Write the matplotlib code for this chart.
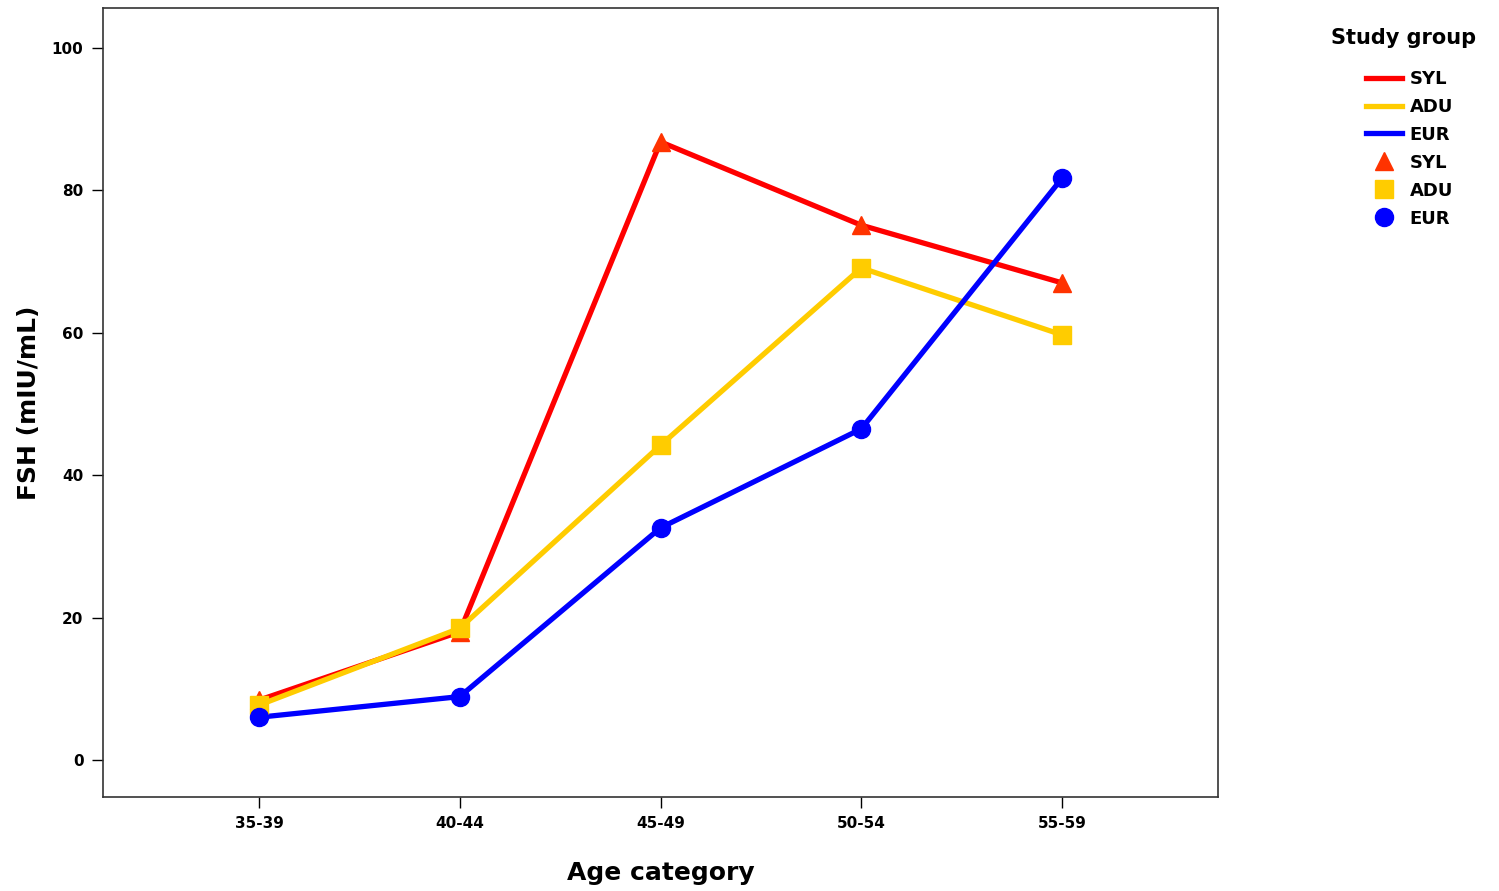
import numpy as np
import matplotlib
matplotlib.use('Agg')
import matplotlib.pyplot as plt
from matplotlib.lines import Line2D

# Data
age_groups = ['35-39', '40-44', '45-49', '50-54', '55-59']
fsh_syl = [8.4, 18.0, 86.8, 75.1, 67.0]
fsh_adu = [7.7, 18.5, 44.2, 69.1, 59.7]
fsh_eur = [6.0, 8.9, 32.6, 46.5, 81.7]

groups = ['SYL', 'ADU', 'EUR']
line_colors = ['#ff0000', '#ffcc00', '#0000ff']
marker_colors = ['#ff3300', '#ffcc00', '#0000ff']
markers = ['^', 's', 'o']

fig = plt.figure(figsize=(14.99, 8.91), dpi=100)
ax = fig.add_axes([0.0687, 0.1055, 0.7439, 0.8855])

x = np.arange(len(age_groups))
for vals, lc, mc, mk in zip([fsh_syl, fsh_adu, fsh_eur], line_colors, marker_colors, markers):
    ax.plot(x, vals, color=lc, linewidth=3.8, zorder=2)
    ax.plot(x, vals, linestyle='none', marker=mk, markersize=13,
            markerfacecolor=mc, markeredgecolor=mc, zorder=3)

ax.set_xlim(-0.777, 4.777)
ax.set_ylim(-5.2, 105.6)
ax.set_xticks(x)
ax.set_xticklabels(age_groups, fontsize=11, fontweight='bold')
ax.set_yticks([0, 20, 40, 60, 80, 100])
ax.set_yticklabels(['0', '20', '40', '60', '80', '100'], fontsize=11, fontweight='bold')
ax.tick_params(direction='out', length=8, width=1, colors='black', pad=6)
for sp in ax.spines.values():
    sp.set_linewidth(1.2)
    sp.set_color('#333333')

ax.set_xlabel('Age category', fontsize=18, fontweight='bold', labelpad=21)
ax.set_ylabel('FSH (mIU/mL)', fontsize=18, fontweight='bold', labelpad=8)

handles = []
for g, lc in zip(groups, line_colors):
    handles.append(Line2D([], [], color=lc, linewidth=3.8, label=g))
for g, mc, mk in zip(groups, marker_colors, markers):
    handles.append(Line2D([], [], linestyle='none', marker=mk, markersize=13,
                          markerfacecolor=mc, markeredgecolor=mc, label=g))

fig.text(0.888, 0.957, 'Study group', fontsize=15, fontweight='bold',
         ha='left', va='center')
leg = fig.legend(handles=handles, loc='upper left', bbox_to_anchor=(0.911, 0.9215),
                 frameon=False, fontsize=13, handlelength=2.0, handletextpad=0.45,
                 labelspacing=0.55, borderaxespad=0, borderpad=0)
for t in leg.get_texts():
    t.set_fontweight('bold')

plt.savefig('out.png', dpi=100)
